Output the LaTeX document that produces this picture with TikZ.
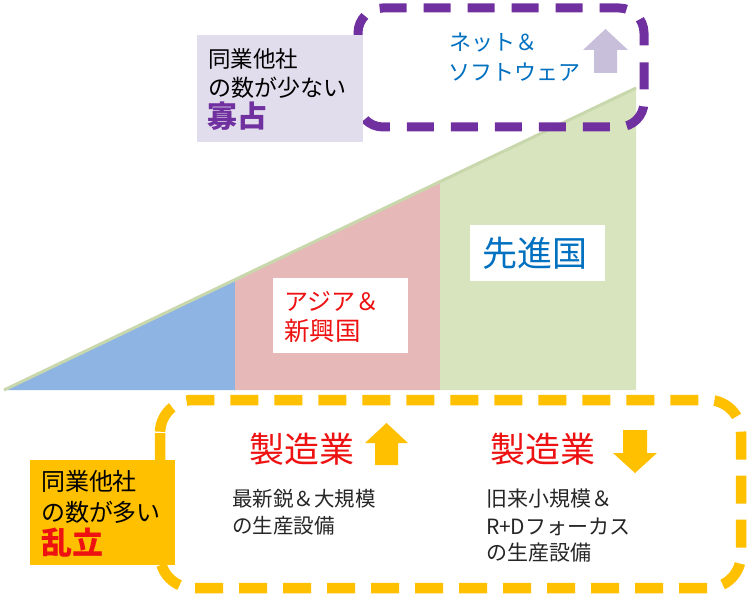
\documentclass[tikz,border=0pt]{standalone}
\usepackage{fontspec}
\setmainfont{Noto Sans CJK JP}
\definecolor{bluefill}{HTML}{8EB4E3}
\definecolor{pinkfill}{HTML}{E6B9B8}
\definecolor{greenfill}{HTML}{D7E4BD}
\definecolor{hypgreen}{HTML}{C9D8AC}
\definecolor{purpleframe}{HTML}{7030A0}
\definecolor{lavender}{HTML}{E2DDEC}
\definecolor{lavarrow}{HTML}{C8BFDB}
\definecolor{orange}{HTML}{FFC000}
\definecolor{textred}{HTML}{EE1111}
\definecolor{textblue}{HTML}{0070C0}
\definecolor{textdark}{HTML}{262626}
\tikzset{
  lbl/.style={anchor=west, inner sep=0pt, outer sep=0pt},
  whitebox/.style={fill=white, inner sep=0pt, draw=none},
  framepurple/.style={draw=purpleframe, line width=9pt, rounded corners=25pt, dash pattern=on 27pt off 17pt},
  frameyellow/.style={draw=orange, line width=10.5pt, rounded corners=33pt, dash pattern=on 28pt off 16pt},
}
\newcommand{\fs}[1]{\fontsize{#1}{#1}\selectfont}
\begin{document}
\begin{tikzpicture}[x=1pt,y=-1pt]
\useasboundingbox (0,0) rectangle (755,596);
\fill[white] (0,0) rectangle (755,596);
% triangle regions
\coordinate (tl) at (4,390);
\coordinate (tr) at (636,88);
\coordinate (bp) at (235,279.6);
\coordinate (pg) at (440,181.7);
\fill[bluefill] (tl) -- (bp) -- (235,390) -- cycle;
\fill[pinkfill] (235,390) -- (bp) -- (pg) -- (440,390) -- cycle;
\fill[greenfill] (440,390) -- (pg) -- (tr) -- (636,390) -- cycle;
\draw[hypgreen, line width=3pt] (tl) -- (tr);
% white text boxes
\node[whitebox, minimum width=135pt, minimum height=75pt] (asiabox) at (340.5,315.5) {};
\node[whitebox, minimum width=135pt, minimum height=55pt] (senbox) at (537,253) {};
\node[lbl, text=textred] (asia1) at (284,301) {\fs{24}アジア＆};
\node[lbl, text=textred] (asia2) at (284,331) {\fs{25.5}新興国};
\node[lbl, text=textblue] (sen) at (482,253) {\fs{35}先進国};
% purple frame
\draw[framepurple] (358,8) rectangle (644,127);
\node[lbl, text=textblue] (net1) at (449,43) {\fs{22}ネット＆};
\node[lbl, text=textblue] (net2) at (448,72) {\fs{22}ソフトウェア};
\fill[lavarrow] (605.5,29) -- (628,50) -- (617,50) -- (617,73) -- (594,73) -- (594,50) -- (583,50) -- cycle;
% lavender box
\node[fill=lavender, inner sep=0pt, minimum width=166pt, minimum height=107pt] (lavbox) at (280,88.5) {};
\node[lbl] (few1) at (208,59) {\fs{22.5}同業他社};
\node[lbl] (few2) at (208,87.5) {\fs{23}の数が少ない};
\node[lbl, text=purpleframe] (few3) at (207,116) {\fs{30}\bfseries 寡占};
% yellow frame
\draw[frameyellow] (160,400) rectangle (741,588);
\node[fill=orange, inner sep=0pt, minimum width=145pt, minimum height=105pt] (orbox) at (102.5,512.5) {};
\node[lbl] (many1) at (41,481) {\fs{24}同業他社};
\node[lbl] (many2) at (41,512) {\fs{24}の数が多い};
\node[lbl, text=textred] (many3) at (41,543) {\fs{31}\bfseries 乱立};
% manufacturing
\node[lbl, text=textred] (mfg1) at (249,449) {\fs{35}製造業};
\node[lbl, text=textred] (mfg2) at (490,449) {\fs{35}製造業};
\fill[orange] (386.5,423) -- (408,443) -- (398,443) -- (398,465) -- (375,465) -- (375,443) -- (365,443) -- cycle;
\fill[orange] (623,430) -- (647,430) -- (647,453) -- (657,453) -- (635,473) -- (613,453) -- (623,453) -- cycle;
\node[lbl, text=textdark] (a1) at (232,499) {\fs{20.5}最新鋭＆大規模};
\node[lbl, text=textdark] (a2) at (232,526) {\fs{20.5}の生産設備};
\node[lbl, text=textdark] (b1) at (486,499) {\fs{21}旧来小規模＆};
\node[lbl, text=textdark] (b2) at (486,527) {\fs{21}R+Dフォーカス};
\node[lbl, text=textdark] (b3) at (486,553) {\fs{21}の生産設備};
\end{tikzpicture}
\end{document}
